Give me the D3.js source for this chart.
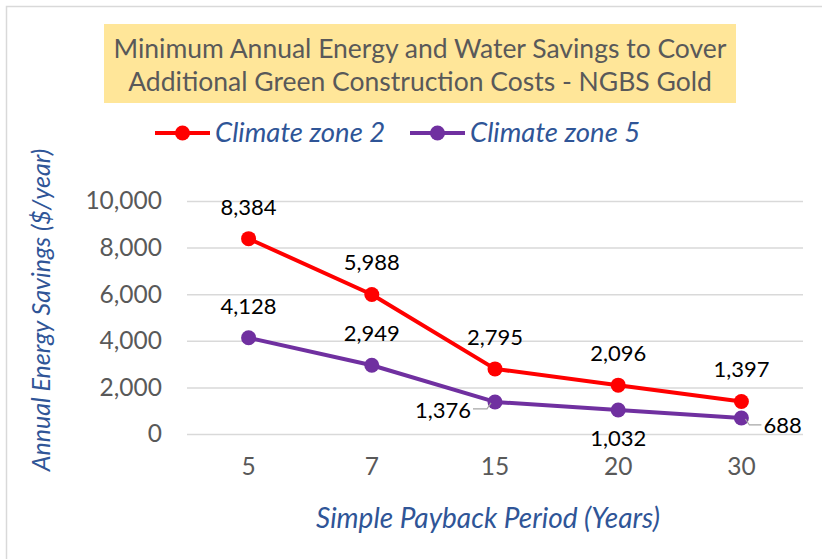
<!DOCTYPE html>
<html>
<head>
<meta charset="utf-8">
<script src="https://cdn.jsdelivr.net/npm/d3@7"></script>
<style>
  body { margin: 0; background: #fff; }
  svg text { font-family: Lato, "Open Sans", sans-serif; }
</style>
</head>
<body>
<svg id="chart"></svg>
<script>
// Chart data
const periods = ["5", "7", "15", "20", "30"];
const zone2 = [8384, 5988, 2795, 2096, 1397];
const zone5 = [4128, 2949, 1376, 1032, 688];
const yTicks = [0, 2000, 4000, 6000, 8000, 10000];
const seriesNames = ["Climate zone 2", "Climate zone 5"];
const seriesColors = ["#ff0000", "#7030a0"];

const width = 822, height = 559;
const margin = { top: 201, right: 19, bottom: 125, left: 187 };
const innerW = width - margin.left - margin.right;
const innerH = height - margin.top - margin.bottom;

const svg = d3.select("#chart").attr("width", width).attr("height", height);

// outer chart border
svg.append("rect")
  .attr("x", 6.5).attr("y", 6.5)
  .attr("width", width + 10).attr("height", height + 10)
  .attr("fill", "none").attr("stroke", "#d9d9d9").attr("stroke-width", 1.5);

// title box
svg.append("rect")
  .attr("x", 104).attr("y", 24).attr("width", 632).attr("height", 79)
  .attr("fill", "#ffe699");
const title = svg.append("text")
  .attr("text-anchor", "middle").attr("fill", "#595959")
  .style("font-size", "26.5px");
title.append("tspan").attr("x", 420).attr("y", 58)
  .text("Minimum Annual Energy and Water Savings to Cover");
title.append("tspan").attr("x", 420).attr("y", 91)
  .text("Additional Green Construction Costs  - NGBS Gold");

const x = d3.scaleBand().domain(periods).range([0, innerW]);
const y = d3.scaleLinear().domain([0, 10000]).range([innerH, 0]);

const g = svg.append("g").attr("transform", `translate(${margin.left},${margin.top})`);

// gridlines + y labels
const yAxis = d3.axisLeft(y).tickValues(yTicks).tickSize(-innerW).tickPadding(25)
  .tickFormat(d3.format(","));
g.append("g").call(yAxis).call(a => {
  a.select(".domain").remove();
  a.selectAll("line").attr("stroke", "#d9d9d9").attr("stroke-width", 1.5);
  a.selectAll("text").attr("fill", "#595959").style("font-size", "24.5px")
    .style("font-family", "Lato, sans-serif");
});

// x labels
const xAxis = d3.axisBottom(x).tickSize(0).tickPadding(24);
g.append("g").attr("transform", `translate(0,${innerH})`).call(xAxis).call(a => {
  a.select(".domain").remove();
  a.selectAll("text").attr("fill", "#595959").style("font-size", "24.5px")
    .style("font-family", "Lato, sans-serif");
});

// axis titles
svg.append("text")
  .attr("transform", "translate(50,310) rotate(-90)")
  .attr("text-anchor", "middle").attr("fill", "#2f5597")
  .style("font-style", "italic").style("font-size", "25px")
  .text("Annual Energy Savings ($/year)");
svg.append("text")
  .attr("x", 488).attr("y", 528)
  .attr("text-anchor", "middle").attr("fill", "#2f5597")
  .style("font-style", "italic").style("font-size", "28px")
  .text("Simple Payback Period (Years)");

const cx = i => x(periods[i]) + x.bandwidth() / 2;
const line = d3.line().x((d, i) => cx(i)).y(d => y(d));

// label offsets for each point [dx, dy, anchor, leader]
const zone2Labels = periods.map(() => [0, -24, "middle", false]);
const zone5Labels = [
  [0, -24, "middle", false],
  [0, -24, "middle", false],
  [-24, 16, "end", true],
  [0, 36, "middle", false],
  [22, 15, "start", true]
];

[[zone2, zone2Labels], [zone5, zone5Labels]].forEach(([vals, labs], s) => {
  const col = seriesColors[s];
  g.append("path").datum(vals)
    .attr("d", line).attr("fill", "none")
    .attr("stroke", col).attr("stroke-width", 4).attr("stroke-linejoin", "round");
  g.selectAll(null).data(vals).join("circle")
    .attr("cx", (d, i) => cx(i)).attr("cy", d => y(d)).attr("r", 7.5)
    .attr("fill", col);
  // leader lines
  g.selectAll(null).data(vals.map((v, i) => ({ v, i, l: labs[i] })).filter(d => d.l[3]))
    .join("path")
    .attr("d", d => {
      const px = cx(d.i), py = y(d.v);
      const sgn = d.l[0] < 0 ? -1 : 1;
      return `M${px + sgn * 4},${py + 1} L${px + sgn * 8},${py + 7} L${px + d.l[0] - sgn * 2},${py + 7}`;
    })
    .attr("fill", "none").attr("stroke", "#a6a6a6").attr("stroke-width", 1.2);
  g.selectAll(null).data(vals).join("text")
    .attr("x", (d, i) => cx(i) + labs[i][0])
    .attr("y", (d, i) => y(d) + labs[i][1])
    .attr("text-anchor", (d, i) => labs[i][2])
    .attr("fill", "#000").style("font-size", "22px")
    .text(d => d3.format(",")(d));
});

// legend
const legX = [155, 410];
seriesNames.forEach((name, s) => {
  const lg = svg.append("g").attr("transform", `translate(${legX[s]},133)`);
  lg.append("line").attr("x1", 0).attr("x2", 55).attr("stroke", seriesColors[s]).attr("stroke-width", 4);
  lg.append("circle").attr("cx", 27.5).attr("r", 7.5).attr("fill", seriesColors[s]);
  lg.append("text").attr("x", 60).attr("y", 9).attr("fill", "#2f5597")
    .style("font-style", "italic").style("font-size", "27.5px").text(name);
});
</script>
</body>
</html>
